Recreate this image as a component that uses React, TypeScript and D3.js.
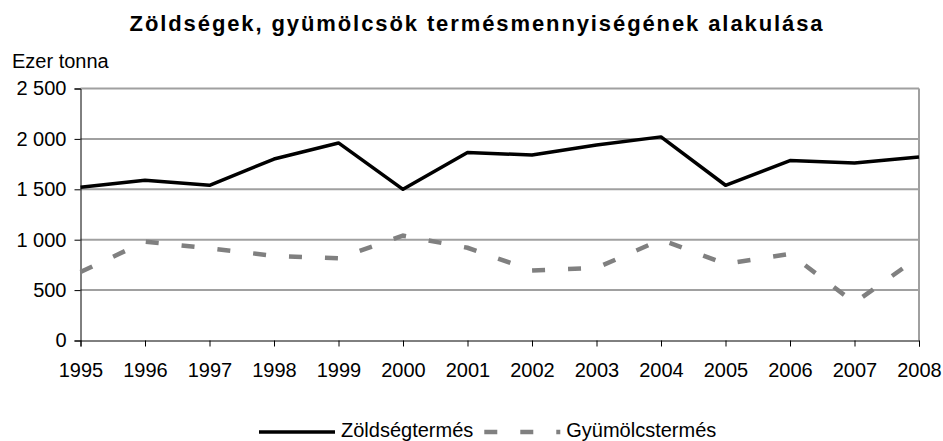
import { useEffect, useRef } from "react";
import * as d3 from "d3";

// Years on the x axis
const years = [
  "1995", "1996", "1997", "1998", "1999", "2000", "2001",
  "2002", "2003", "2004", "2005", "2006", "2007", "2008",
];

// Thousand tonnes
const zoldseg = [1520, 1590, 1540, 1800, 1960, 1500, 1865, 1840, 1940, 2020, 1540, 1785, 1760, 1820];
const gyumolcs = [680, 980, 915, 840, 815, 1040, 920, 695, 720, 1000, 760, 860, 375, 830];

const yTicks = [0, 500, 1000, 1500, 2000, 2500];

const title = "Zöldségek, gyümölcsök termésmennyiségének alakulása";
const yLabel = "Ezer tonna";
const seriesNames = ["Zöldségtermés", "Gyümölcstermés"];

const width = 943;
const height = 441;
const font = "'Liberation Sans', Arial, sans-serif";

const App = () => {
  const svgRef = useRef<SVGSVGElement>(null);

  useEffect(() => {
    if (!svgRef.current) return;
    const svg = d3.select(svgRef.current);
    svg.selectAll("*").remove();

    const margin = { top: 88.5, right: 24, bottom: 100.5, left: 80.5 };
    const innerW = width - margin.left - margin.right;
    const innerH = height - margin.top - margin.bottom;

    const x = d3.scalePoint<string>().domain(years).range([0, innerW]);
    const y = d3.scaleLinear().domain([0, 2500]).range([innerH, 0]);

    const locale = d3.formatLocale({
      decimal: ",",
      thousands: " ",
      grouping: [3],
      currency: ["", " Ft"],
    });
    const fmt = locale.format(",d");

    // title
    svg
      .append("text")
      .attr("x", 477)
      .attr("y", 31)
      .attr("text-anchor", "middle")
      .attr("font-family", font)
      .attr("font-weight", "bold")
      .attr("font-size", 22)
      .attr("letter-spacing", 1.9)
      .text(title);

    svg
      .append("text")
      .attr("x", 12)
      .attr("y", 68)
      .attr("font-family", font)
      .attr("font-size", 20)
      .text(yLabel);

    const g = svg
      .append("g")
      .attr("transform", `translate(${margin.left},${margin.top})`);

    // gridlines
    g.selectAll(".grid")
      .data(yTicks.filter((d) => d > 0))
      .enter()
      .append("line")
      .attr("x1", 0)
      .attr("x2", innerW)
      .attr("y1", (d) => y(d))
      .attr("y2", (d) => y(d))
      .attr("stroke", "#a0a0a0")
      .attr("stroke-width", 2);

    // right border of plot area
    g.append("line")
      .attr("x1", innerW)
      .attr("x2", innerW)
      .attr("y1", 0)
      .attr("y2", innerH)
      .attr("stroke", "#a0a0a0")
      .attr("stroke-width", 2);

    // y axis
    const yAxis = g
      .append("g")
      .call(
        d3
          .axisLeft(y)
          .tickValues(yTicks)
          .tickSize(6)
          .tickPadding(8)
          .tickFormat((d) => fmt(d as number))
      );
    yAxis.select(".domain").attr("stroke", "#000");
    yAxis
      .selectAll("text")
      .attr("font-family", font)
      .attr("font-size", 20)
      .attr("fill", "#000");

    // x axis
    const xAxis = g
      .append("g")
      .attr("transform", `translate(0,${innerH})`)
      .call(d3.axisBottom(x).tickSize(6).tickPadding(16).tickSizeOuter(6));
    xAxis.select(".domain").attr("stroke", "#000");
    xAxis
      .selectAll("text")
      .attr("font-family", font)
      .attr("font-size", 20)
      .attr("fill", "#000");

    const line = d3
      .line<number>()
      .x((d, i) => x(years[i]) as number)
      .y((d) => y(d));

    g.append("path")
      .datum(gyumolcs)
      .attr("d", line)
      .attr("fill", "none")
      .attr("stroke", "#808080")
      .attr("stroke-width", 4.5)
      .attr("stroke-dasharray", "13,23");

    g.append("path")
      .datum(zoldseg)
      .attr("d", line)
      .attr("fill", "none")
      .attr("stroke", "#000")
      .attr("stroke-width", 3.5)
      .attr("stroke-linejoin", "round");

    // legend
    const leg = svg.append("g");
    const ly = 432;
    let lx = 259;
    const styles = [
      { stroke: "#000", w: 3.5, dash: null },
      { stroke: "#808080", w: 4.5, dash: "13,23" },
    ];
    seriesNames.forEach((name, i) => {
      leg
        .append("line")
        .attr("x1", lx)
        .attr("x2", lx + 76)
        .attr("y1", ly)
        .attr("y2", ly)
        .attr("stroke", styles[i].stroke)
        .attr("stroke-width", styles[i].w)
        .attr("stroke-dasharray", styles[i].dash);
      const t = leg
        .append("text")
        .attr("x", lx + 82)
        .attr("y", ly + 5)
        .attr("font-family", font)
        .attr("font-size", 20)
        .text(name);
      const tw = (t.node() as SVGTextElement).getComputedTextLength();
      lx = lx + 82 + tw + 11;
    });
  }, []);

  return (
    <svg
      ref={svgRef}
      width={width}
      height={height}
      style={{ position: "absolute", left: 0, top: 0, background: "#fff" }}
    ></svg>
  );
};

export default App;
